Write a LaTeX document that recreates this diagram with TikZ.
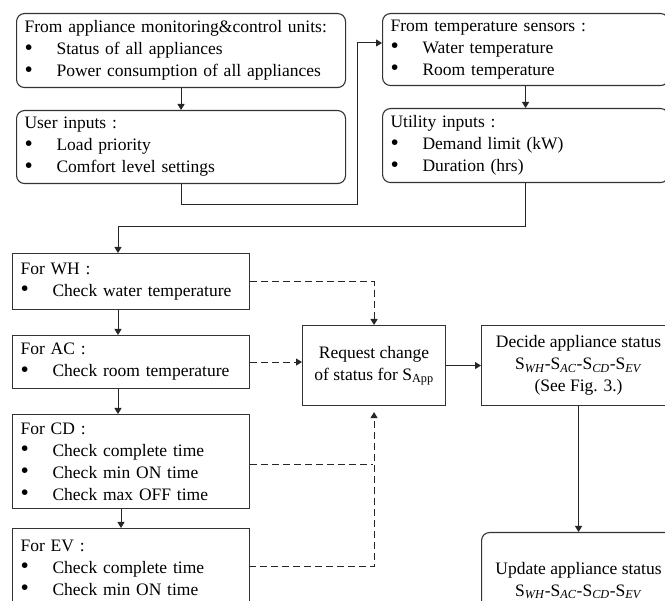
\documentclass[tikz,border=0pt]{standalone}
\usepackage{fontspec}
\setmainfont{Liberation Serif}
\usetikzlibrary{arrows.meta,calc}
\newcommand{\bul}[1]{\makebox[32pt][l]{\raisebox{-0.3pt}{\scalebox{1.35}{\textbullet}}}#1}
\newcommand{\sset}{S\textsubscript{\textit{WH}}-S\textsubscript{\textit{AC}}-S\textsubscript{\textit{CD}}-S\textsubscript{\textit{EV}}}
\begin{document}
\begin{tikzpicture}[x=1pt,y=-1pt,
  every node/.style={font=\fontsize{17.5}{22}\selectfont},
  lbox/.style={draw=black!80,line width=1.1pt,anchor=north west,inner xsep=8pt,inner ysep=2pt,align=left},
  rbox/.style={lbox,rounded corners=8pt},
  cbox/.style={draw=black!80,line width=1.1pt,anchor=north west,inner sep=2pt,align=center},
  arr/.style={line width=1pt,draw=black!85,-{Triangle[length=6pt,width=7pt]}},
  darr/.style={arr,dash pattern=on 7pt off 4pt},
  dline/.style={line width=1pt,draw=black!85,dash pattern=on 7pt off 4pt}]
\useasboundingbox (0,0) rectangle (665,601);
\clip (0,0) rectangle (665,601);
\fill[white] (0,0) rectangle (665,601);
% top boxes
\node[rbox,text width=313pt,minimum height=74pt] (b1) at (16,13)
  {From appliance monitoring\&control units:\\ \bul{Status of all appliances}\\ \bul{Power consumption of all appliances}};
\node[rbox,text width=313pt,minimum height=73pt] (b2) at (16,110)
  {User inputs :\\ \bul{Load priority}\\ \bul{Comfort level settings}};
\node[rbox,text width=270pt,minimum height=72pt] (b3) at (382,13)
  {From temperature sensors :\\ \bul{Water temperature}\\ \bul{Room temperature}};
\node[rbox,text width=270pt,minimum height=74pt] (b4) at (382,108)
  {Utility inputs :\\ \bul{Demand limit (kW)}\\ \bul{Duration (hrs)}};
% appliance boxes
\node[lbox,text width=221pt,minimum height=56pt] (wh) at (12,253)
  {For WH :\\ \bul{Check water temperature}};
\node[lbox,text width=221pt,minimum height=53pt] (ac) at (12,335)
  {For AC :\\ \bul{Check room temperature}};
\node[lbox,text width=221pt,minimum height=94pt] (cd) at (12,414)
  {For CD :\\ \bul{Check complete time}\\ \bul{Check min ON time}\\ \bul{Check max OFF time}};
\node[lbox,text width=221pt,minimum height=78pt] (ev) at (12,528)
  {For EV :\\ \bul{Check complete time}\\ \bul{Check min ON time}};
% right column
\node[cbox,minimum width=143pt,minimum height=80pt] (req) at (302,325)
  {Request change\\ of status for S\textsubscript{App}};
\node[cbox,minimum width=194pt,minimum height=80pt] (dec) at (481,325)
  {Decide appliance status\\ \sset\\ (See Fig. 3.)};
\node[cbox,rounded corners=8pt,minimum width=194pt,minimum height=96pt] (upd) at (481,532)
  {Update appliance status\\ \sset};
% coordinates
\coordinate (j1) at (357,205);
\coordinate (j2) at (357,43);
\coordinate (j3) at (118,227);
\coordinate (j4) at (373,465);
\coordinate (j5) at (249,567);
% solid connectors
\draw[arr] (b1.south) -- (b2.north);
\draw[arr] (b2.south) |- (j1) -- (j2) -- (b3.west |- j2);
\draw[arr] (b3.south) -- (b4.north);
\draw[arr] (b4.south) |- (j3) -- (wh.north -| j3);
\draw[arr] (wh.south -| j3) -- (ac.north -| j3);
\draw[arr] (ac.south -| j3) -- (cd.north -| j3);
\draw[arr] ($(cd.south -| j3)+(3,0)$) -- ($(ev.north -| j3)+(3,0)$);
\draw[arr] (req.east) -- (dec.west |- req.east);
\draw[arr] (dec.south) -- (upd.north);
% dashed connectors
\draw[darr] (wh.east) -| (req.north);
\draw[darr] (ac.east) -- (req.west |- ac.east);
\draw[dline] (cd.east |- j4) -- (j4);
\draw[darr,shorten >=6pt] (j5) -| (req.south);
\end{tikzpicture}
\end{document}
